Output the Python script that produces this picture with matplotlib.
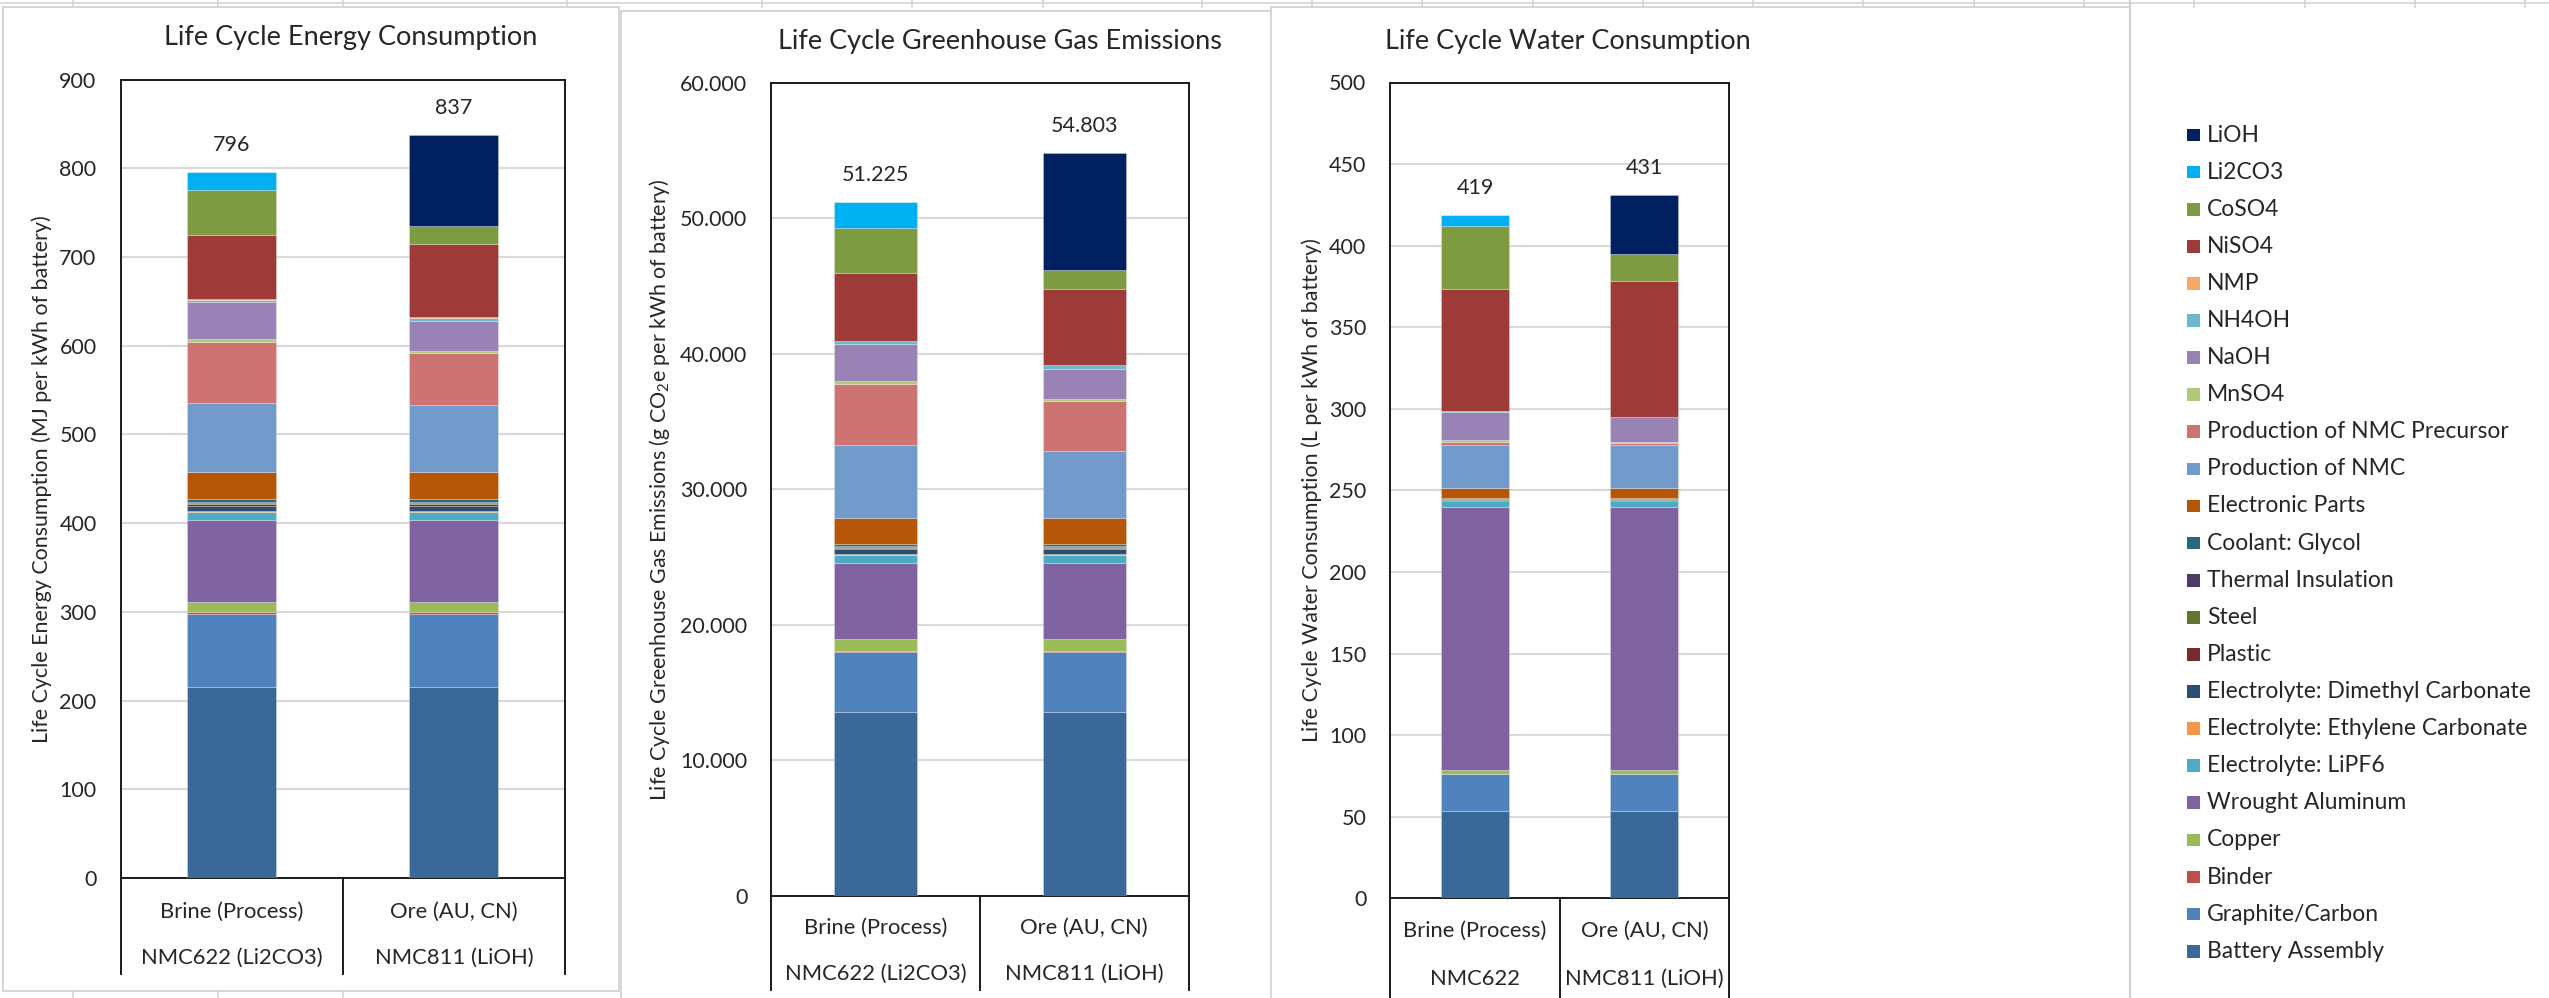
import matplotlib
matplotlib.use("Agg")
import matplotlib.pyplot as plt
from matplotlib.patches import Rectangle
from matplotlib.lines import Line2D
from matplotlib.ticker import FixedLocator, FuncFormatter

plt.rcParams['font.family'] = ['Lato', 'DejaVu Sans']
plt.rcParams['mathtext.fontset'] = 'custom'
plt.rcParams['mathtext.rm'] = 'Lato'
plt.rcParams['mathtext.default'] = 'regular'

# ---------------------------------------------------------------- data
# stacking order, bottom to top
components = [
    "Battery Assembly", "Graphite/Carbon", "Binder", "Copper", "Wrought Aluminum",
    "Electrolyte: LiPF6", "Electrolyte: Ethylene Carbonate",
    "Electrolyte: Dimethyl Carbonate", "Plastic", "Steel", "Thermal Insulation",
    "Coolant: Glycol", "Electronic Parts", "Production of NMC",
    "Production of NMC Precursor", "MnSO4", "NaOH", "NH4OH", "NMP", "NiSO4",
    "CoSO4", "Li2CO3", "LiOH",
]
colors = [
    "#3A6899", "#4F81BD", "#C0504D", "#9BBB59", "#8064A2",
    "#4BACC6", "#F79646",
    "#2C4D75", "#772C2A", "#5F7530", "#4D3B62",
    "#276A7C", "#B65708", "#729ACA",
    "#CD7371", "#AFC97A", "#9983B5", "#6CB9CF", "#F7A865", "#9E3B39",
    "#7F9B41", "#00B0F0", "#002060",
]

scenarios = ["Brine (Process)", "Ore (AU, CN)"]
chemistries = ["NMC622 (Li2CO3)", "NMC811 (LiOH)"]
chemistries_water = ["NMC622", "NMC811 (LiOH)"]

# MJ per kWh of battery
energy_brine = [215, 83, 1.5, 12, 91.5, 9.4, 1.5, 6.0, 1.5, 1.5, 1.5, 3.0, 30,
                77.5, 69, 4.0, 41, 3.0, 1.0, 72, 50.7, 20.3, 0]
energy_ore = [215, 83, 1.5, 12, 91.5, 9.4, 1.5, 6.0, 1.5, 1.5, 1.5, 3.0, 30,
              75.7, 58.4, 2.6, 33.8, 3.7, 1.0, 82.4, 19.8, 0, 102.3]

# g CO2e per kWh of battery
ghg_brine = [13590, 4400, 120, 850, 5600, 620, 80, 350, 80, 80, 80, 150, 1900,
             5400, 4450, 250, 2700, 250, 30, 4960, 3320, 1965, 0]
ghg_ore = [13590, 4400, 120, 850, 5600, 620, 80, 350, 80, 80, 80, 150, 1900,
           4920, 3700, 170, 2210, 250, 30, 5580, 1430, 0, 8613]

# L per kWh of battery
water_brine = [53.5, 22.5, 0.3, 2.3, 161.0, 4.0, 0.2, 0.5, 0.1, 0.3, 0.1, 0.3, 6.5,
               26.5, 1.8, 1.0, 17.4, 0.3, 0.1, 74.6, 39.0, 6.7, 0]
water_ore = [53.5, 22.5, 0.3, 2.3, 161.0, 4.0, 0.2, 0.5, 0.1, 0.3, 0.1, 0.3, 6.5,
             26.0, 1.4, 0.6, 15.2, 0.3, 0.1, 83.0, 16.8, 0, 36.0]

# ---------------------------------------------------------------- layout
W, H = 2549, 998
DPI = 100
fig = plt.figure(figsize=(W / DPI, H / DPI), dpi=DPI)
fig.patch.set_facecolor("white")

TXT = "#262626"
GRID = "#D9D9D9"
SHEET = "#D4D4D4"

TITLE_FS = 19.5
TICK_FS = 15.5
CAT_FS = 15.8
YLAB_FS = 15.4
LEG_FS = 16.5


def fy(ypx):
    return 1 - ypx / H


def fx(xpx):
    return xpx / W


def dot_thousands(v, _=None):
    return f"{v:,.0f}".replace(",", ".")


def plain(v, _=None):
    return f"{v:.0f}"


# worksheet cell lines behind the chart objects
sheet_cols = [73, 218, 343, 567, 762, 912, 1043, 1202, 1312, 1422, 1533, 1643,
              1753, 1863, 1974, 2084, 2194, 2305, 2415, 2525]
fig.add_artist(Line2D([0, 1], [fy(3), fy(3)], color=SHEET, lw=1.2))
for c in sheet_cols:
    fig.add_artist(Line2D([fx(c), fx(c)], [fy(0), fy(7)], color=SHEET, lw=1.2))
for c in [73, 218, 343]:
    fig.add_artist(Line2D([fx(c), fx(c)], [fy(991), fy(998)], color=SHEET, lw=1.2))

# chart object borders
for (x0, y0, x1, y1) in [(3, 7, 619, 991), (621, 11, 1272, 1010),
                         (1271, 7, 2130, 1010)]:
    fig.add_artist(Rectangle((fx(x0), fy(y1)), fx(x1) - fx(x0), fy(y0) - fy(y1),
                             facecolor="white", edgecolor="#D0D0D0", lw=1.2,
                             transform=fig.transFigure, zorder=0))
fig.add_artist(Line2D([fx(2130), fx(2130)], [fy(0), fy(998)], color="#D0D0D0", lw=1.5))

charts = [
    dict(title="Life Cycle Energy Consumption", title_xy=(351, 37),
         ylabel="Life Cycle Energy Consumption (MJ per kWh of battery)", ylabel_x=42,
         box=(120.6, 565, 79.6, 878), ymax=900, step=100,
         data=(energy_brine, energy_ore), fmt=plain,
         chem=chemistries, table_bottom=974, rows=(912, 958)),
    dict(title="Life Cycle Greenhouse Gas Emissions", title_xy=(1000, 41),
         ylabel="Life Cycle Greenhouse Gas Emissions (g CO$_2$e per kWh of battery)",
         ylabel_x=660,
         box=(771.4, 1188.6, 82.7, 896), ymax=60000, step=10000,
         data=(ghg_brine, ghg_ore), fmt=dot_thousands,
         chem=chemistries, table_bottom=990, rows=(928, 974)),
    dict(title="Life Cycle Water Consumption", title_xy=(1568, 41),
         ylabel="Life Cycle Water Consumption (L per kWh of battery)", ylabel_x=1312,
         box=(1390.4, 1729, 82.5, 898.3), ymax=500, step=50,
         data=(water_brine, water_ore), fmt=plain,
         chem=chemistries_water, table_bottom=1000, rows=(931, 979)),
]

for ch in charts:
    x0, x1, ytop, ybot = ch["box"]
    ax = fig.add_axes([fx(x0), fy(ybot), fx(x1) - fx(x0), (ybot - ytop) / H])
    ax.set_facecolor("none")
    brine, ore = ch["data"]
    xs = [0, 1]
    bottoms = [0.0, 0.0]
    for name, col, vb, vo in zip(components, colors, brine, ore):
        ax.bar(xs, [vb, vo], bottom=bottoms, width=0.4, color=col,
               edgecolor=(1, 1, 1, 0.35), linewidth=0.5, zorder=3)
        bottoms = [bottoms[0] + vb, bottoms[1] + vo]
    for x, total in zip(xs, bottoms):
        ax.annotate(ch["fmt"](total), xy=(x, total), xytext=(0, 27 * 0.72),
                    textcoords="offset points", ha="center", va="center",
                    fontsize=TICK_FS, color=TXT)

    ax.set_xlim(-0.5, 1.5)
    ax.set_ylim(0, ch["ymax"])
    ticks = list(range(0, ch["ymax"] + 1, ch["step"]))
    ax.yaxis.set_major_locator(FixedLocator(ticks))
    ax.yaxis.set_major_formatter(FuncFormatter(ch["fmt"]))
    ax.set_xticks([])
    ax.tick_params(axis="y", length=0, pad=24 * 0.72, labelsize=TICK_FS,
                   labelcolor=TXT)
    ax.grid(axis="y", color=GRID, lw=1.5, zorder=0)
    ax.set_axisbelow(True)
    for s in ax.spines.values():
        s.set_color("#1A1A1A")
        s.set_linewidth(1.4)

    # multi-level category table under the axis
    hpx = ybot - ytop
    tb = -(ch["table_bottom"] - ybot) / hpx
    trans = ax.get_xaxis_transform()
    for xv in (-0.5, 0.5, 1.5):
        ax.add_line(Line2D([xv, xv], [0, tb], transform=trans, color="#1A1A1A",
                           lw=1.4, clip_on=False))
    r1 = -(ch["rows"][0] - ybot) / hpx
    r2 = -(ch["rows"][1] - ybot) / hpx
    for x, sc, chem in zip(xs, scenarios, ch["chem"]):
        ax.text(x, r1, sc, transform=trans, ha="center", va="center",
                fontsize=CAT_FS, color=TXT, clip_on=False)
        ax.text(x, r2, chem, transform=trans, ha="center", va="center",
                fontsize=CAT_FS, color=TXT, clip_on=False)

    fig.text(fx(ch["title_xy"][0]), fy(ch["title_xy"][1]), ch["title"],
             ha="center", va="center", fontsize=TITLE_FS, color=TXT)
    fig.text(fx(ch["ylabel_x"]), fy((ytop + ybot) / 2), ch["ylabel"],
             rotation=90, ha="center", va="center", fontsize=YLAB_FS, color=TXT)

# legend panel, top entry first
leg_x, leg_y0, leg_dy, sq = 2187, 135, 37.1, 12.7
for i, (name, col) in enumerate(zip(components[::-1], colors[::-1])):
    yc = leg_y0 + i * leg_dy
    fig.add_artist(Rectangle((fx(leg_x), fy(yc + sq / 2)), sq / W, sq / H,
                             facecolor=col, edgecolor="none",
                             transform=fig.transFigure))
    fig.text(fx(2207), fy(yc), name, ha="left", va="center",
             fontsize=LEG_FS, color=TXT)

fig.savefig("out.png", dpi=DPI, facecolor="white")
